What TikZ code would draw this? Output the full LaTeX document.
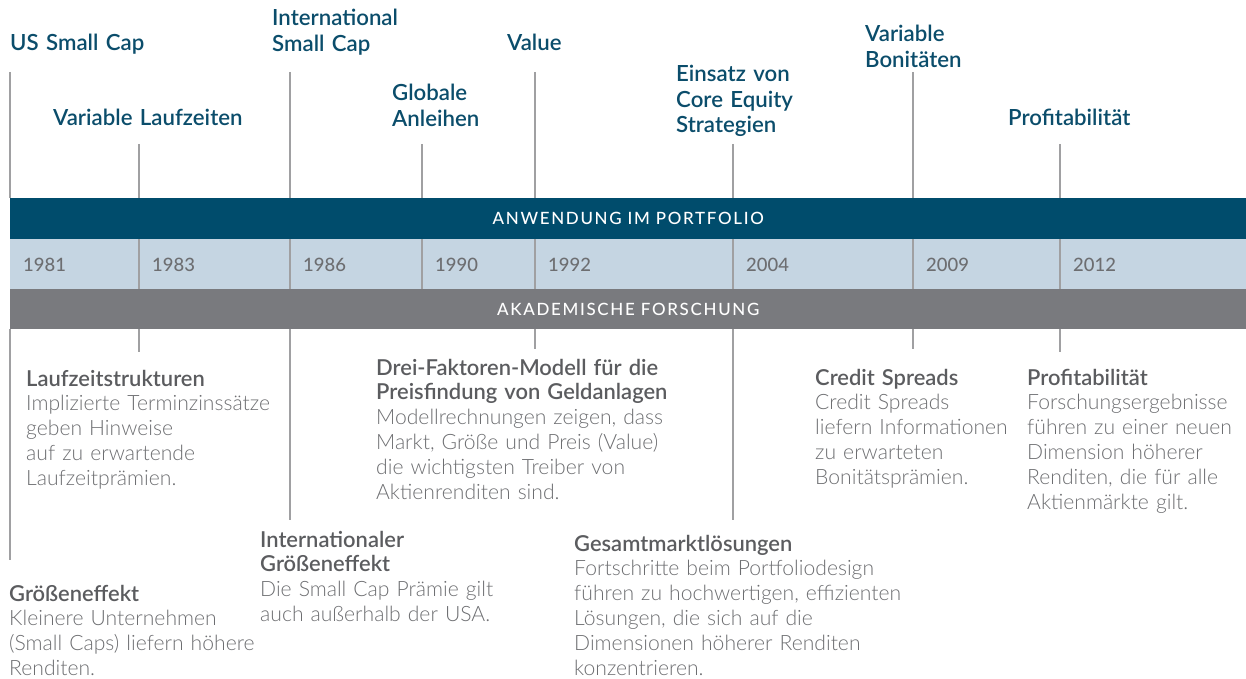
\documentclass[tikz,border=0pt]{standalone}
\usepackage{fontspec}
\setmainfont{Lato}
\newfontfamily\lightfont{Lato Light}
\newfontfamily\semifont{Lato Semibold}
\newfontfamily\medfont{Lato Medium}
\newfontfamily\bandfont{Lato Medium}[LetterSpace=10]
\definecolor{dblue}{HTML}{004C6C}
\definecolor{lblue}{HTML}{C5D5E2}
\definecolor{gband}{HTML}{797A7E}
\definecolor{ttl}{HTML}{0B4D6B}
\definecolor{txt}{HTML}{6D6E71}
\definecolor{hd}{HTML}{5B5C5F}
\definecolor{ln}{HTML}{A0A0A2}
\tikzset{
  ttlbox/.style={anchor=base west, inner sep=0pt, text=ttl, text width=260bp, align=left,
     font=\semifont\fontsize{22.3}{25.3}\selectfont},
  yrbox/.style={anchor=base west, inner sep=0pt, text=txt, font=\medfont\fontsize{18.5}{22}\selectfont},
  txtbox/.style={anchor=base west, inner sep=0pt, text=txt, text width=420bp, align=left,
     font=\lightfont\fontsize{21.2}{25}\selectfont},
  vline/.style={draw=ln, line width=1.2bp},
  sepline/.style={draw=ln, line width=1.5bp},
  band/.style={anchor=north west, inner sep=0pt, minimum width=1236bp, text=white,
     font=\bandfont\fontsize{17}{20}\selectfont}
}
\newcommand{\hdg}[1]{{\semifont\fontsize{22}{25}\selectfont\color{hd}#1}}
\begin{document}
\begin{tikzpicture}[x=1bp,y=-1bp]
\useasboundingbox (0,0) rectangle (1246,679);
% bands
\node[band, fill=dblue, minimum height=41bp] (app) at (10,198) {ANWENDUNG IM PORTFOLIO};
\node[band, fill=lblue, minimum height=50bp] (yrs) at (10,239) {};
\node[band, fill=gband, minimum height=40bp] (acad) at (10,289) {AKADEMISCHE FORSCHUNG};
% top coordinates
\coordinate (t81) at (10,72);
\coordinate (t83) at (139,144);
\coordinate (t86) at (290,72);
\coordinate (t90) at (422,144);
\coordinate (t92) at (535,72);
\coordinate (t04) at (733,144);
\coordinate (t09) at (913,72);
\coordinate (t12) at (1060,144);
% bottom coordinates
\coordinate (b81) at (10,560);
\coordinate (b83) at (139,352);
\coordinate (b86) at (290,520);
\coordinate (b92) at (535,349);
\coordinate (b04) at (733,520);
\coordinate (b09) at (913,349);
\coordinate (b12) at (1060,352);
% top lines
\foreach \c in {t81,t83,t86,t90,t92,t04,t09,t12}{
  \draw[vline] (\c) -- (\c |- app.north);
}
% separators
\foreach \c in {t83,t86,t90,t92,t04,t09,t12}{
  \draw[sepline] (\c |- yrs.north) -- (\c |- yrs.south);
}
% bottom lines
\foreach \c in {b81,b83,b86,b92,b04,b09,b12}{
  \draw[vline] (acad.south -| \c) -- (\c);
}
% years
\node[yrbox] (y81) at (23,271) {1981};
\node[yrbox] (y83) at (152,271) {1983};
\node[yrbox] (y86) at (303,271) {1986};
\node[yrbox] (y90) at (435,271) {1990};
\node[yrbox] (y92) at (548,271) {1992};
\node[yrbox] (y04) at (746,271) {2004};
\node[yrbox] (y09) at (926,271) {2009};
\node[yrbox] (y12) at (1073,271) {2012};
% top titles
\node[ttlbox] (l81) at (10,51) {US Small Cap};
\node[ttlbox] (l83) at (53,126) {Variable Laufzeiten};
\node[ttlbox] (l86) at (272,26) {International\\Small Cap};
\node[ttlbox] (l90) at (392,101) {Globale\\Anleihen};
\node[ttlbox] (l92) at (507,51) {Value};
\node[ttlbox] (l04) at (676,82) {Einsatz von\\Core Equity\\Strategien};
\node[ttlbox] (l09) at (865,42) {Variable\\Bonitäten};
\node[ttlbox] (l12) at (1008,126) {Profitabilität};
% bottom texts
\node[txtbox] (r83) at (26,386) {\hdg{Laufzeitstrukturen}\\Implizierte Terminzinssätze\\geben Hinweise\\auf zu erwartende\\Laufzeitprämien.};
\node[txtbox] (r92) at (376,375) {\hdg{Drei-Faktoren-Modell für die}\\\hdg{Preisfindung von Geldanlagen}\\Modellrechnungen zeigen, dass\\Markt, Größe und Preis (Value)\\die wichtigsten Treiber von\\Aktienrenditen sind.};
\node[txtbox] (r09) at (815,385) {\hdg{Credit Spreads}\\Credit Spreads\\liefern Informationen\\zu erwarteten\\Bonitätsprämien.};
\node[txtbox] (r12) at (1027,385) {\hdg{Profitabilität}\\Forschungsergebnisse\\führen zu einer neuen\\Dimension höherer\\Renditen, die für alle\\Aktienmärkte gilt.};
\node[txtbox] (r86) at (260,547) {\hdg{Internationaler}\\\hdg{Größeneffekt}\\Die Small Cap Prämie gilt\\auch außerhalb der USA.};
\node[txtbox] (r04) at (574,551) {\hdg{Gesamtmarktlösungen}\\Fortschritte beim Portfoliodesign\\führen zu hochwertigen, effizienten\\Lösungen, die sich auf die\\Dimensionen höherer Renditen\\konzentrieren.};
\node[txtbox] (r81) at (9,601) {\hdg{Größeneffekt}\\Kleinere Unternehmen\\(Small Caps) liefern höhere\\Renditen.};
\end{tikzpicture}
\end{document}
